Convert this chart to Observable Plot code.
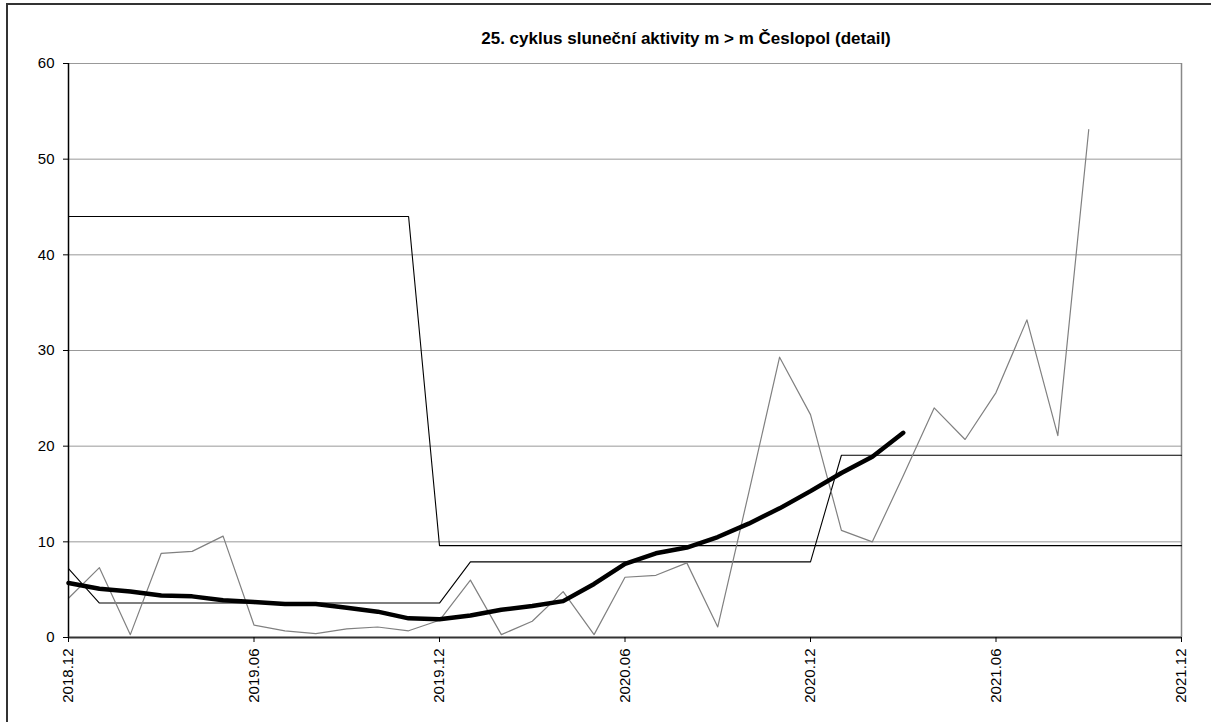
<!DOCTYPE html>
<html>
<head>
<meta charset="utf-8">
<script src="https://cdn.jsdelivr.net/npm/d3@7"></script>
<script src="https://cdn.jsdelivr.net/npm/@observablehq/plot@0.6"></script>
<style>
  html, body { margin: 0; padding: 0; background: #fff; overflow: hidden; }
  body { width: 1211px; height: 722px; position: relative; font-family: "Liberation Sans", Arial, sans-serif; }
  #frame { position: absolute; left: 6px; top: 3px; width: 1230px; height: 740px;
           border-left: 2px solid #333; border-top: 2px solid #333; pointer-events: none; }
  #title { height: 55px; box-sizing: border-box; padding-top: 29px; margin-left: 161px; width: 1050px;
           text-align: center; font-weight: bold; font-size: 17px; line-height: normal; color: #000;
           white-space: pre; }
  #chart svg { display: block; }
</style>
</head>
<body>
<div id="frame"></div>
<div id="title">25. cyklus sluneční aktivity m &gt; m Česlopol (detail)</div>
<div id="chart"></div>
<script>
// month categories (x axis), one per month
const months = ["2018.12","2019.01","2019.02","2019.03","2019.04","2019.05","2019.06","2019.07","2019.08","2019.09","2019.10","2019.11",
                "2019.12","2020.01","2020.02","2020.03","2020.04","2020.05","2020.06","2020.07","2020.08","2020.09","2020.10","2020.11",
                "2020.12","2021.01","2021.02","2021.03","2021.04","2021.05","2021.06","2021.07","2021.08","2021.09","2021.10","2021.11",
                "2021.12"];
// labelled x ticks
const tickLabels = ["2018.12","2019.06","2019.12","2020.06","2020.12","2021.06","2021.12"];
// y ticks
const yTicks = [0, 10, 20, 30, 40, 50, 60];
const gridValues = [10, 20, 30, 40, 50, 60];

// monthly values (thin gray)
const monthly = [4.1, 7.3, 0.3, 8.8, 9.0, 10.6, 1.3, 0.7, 0.4, 0.9, 1.1, 0.7,
                 1.8, 6.0, 0.3, 1.7, 4.8, 0.3, 6.3, 6.5, 7.8, 1.1, 15.1, 29.3,
                 23.3, 11.2, 10.0, 16.9, 24.0, 20.7, 25.6, 33.2, 21.1, 53.1];
// smoothed values (thick black)
const smoothed = [5.7, 5.1, 4.8, 4.4, 4.3, 3.9, 3.7, 3.5, 3.5, 3.1, 2.7, 2.0,
                  1.9, 2.3, 2.9, 3.3, 3.8, 5.6, 7.7, 8.8, 9.4, 10.5, 11.9, 13.5,
                  15.3, 17.2, 18.9, 21.4];
// lower step series (thin black)
const lowerStep = [7.2, 3.6, 3.6, 3.6, 3.6, 3.6, 3.6, 3.6, 3.6, 3.6, 3.6, 3.6,
                   3.6, 7.9, 7.9, 7.9, 7.9, 7.9, 7.9, 7.9, 7.9, 7.9, 7.9, 7.9,
                   7.9, 19.05, 19.05, 19.05, 19.05, 19.05, 19.05, 19.05, 19.05, 19.05, 19.05, 19.05,
                   19.05];
// upper step series (thin black)
const upperStep = [44.0, 44.0, 44.0, 44.0, 44.0, 44.0, 44.0, 44.0, 44.0, 44.0, 44.0, 44.0,
                   9.6, 9.6, 9.6, 9.6, 9.6, 9.6, 9.6, 9.6, 9.6, 9.6, 9.6, 9.6,
                   9.6, 9.6, 9.6, 9.6, 9.6, 9.6, 9.6, 9.6, 9.6, 9.6, 9.6, 9.6,
                   9.6];

const toRows = arr => arr.map((v, i) => ({i, month: months[i], v}));
const tickIdx = tickLabels.map(l => months.indexOf(l));
const lastIdx = months.length - 1;

const chart = Plot.plot({
  width: 1211,
  height: 667,
  marginLeft: 68,
  marginRight: 30,
  marginTop: 8,
  marginBottom: 85,
  style: {fontFamily: "'Liberation Sans', Arial, sans-serif", fontSize: "15px", color: "#000", background: "transparent"},
  x: {type: "linear", domain: [0, lastIdx]},
  y: {domain: [0, 60]},
  marks: [
    Plot.ruleY(gridValues, {stroke: "#999", strokeWidth: 1}),
    Plot.ruleX([lastIdx], {stroke: "#888", strokeWidth: 1.5}),
    Plot.line(toRows(upperStep), {x: "i", y: "v", stroke: "#000", strokeWidth: 1.1}),
    Plot.line(toRows(lowerStep), {x: "i", y: "v", stroke: "#000", strokeWidth: 1.1}),
    Plot.line(toRows(monthly), {x: "i", y: "v", stroke: "#808080", strokeWidth: 1.2}),
    Plot.line(toRows(smoothed), {x: "i", y: "v", stroke: "#000", strokeWidth: 4.5, strokeLinejoin: "round", strokeLinecap: "round"}),
    Plot.ruleX([0], {stroke: "#000", strokeWidth: 1.5}),
    Plot.ruleY([0], {stroke: "#333", strokeWidth: 2}),
    Plot.axisY({ticks: yTicks, tickSize: 5, tickPadding: 9, fontSize: 15, label: null, stroke: "#000"}),
    Plot.axisX({ticks: tickIdx, tickFormat: i => months[i], tickRotate: -90, tickSize: 5, tickPadding: 6, fontSize: 15, label: null, stroke: "#000"})
  ]
});
document.getElementById("chart").appendChild(chart);
</script>
</body>
</html>
